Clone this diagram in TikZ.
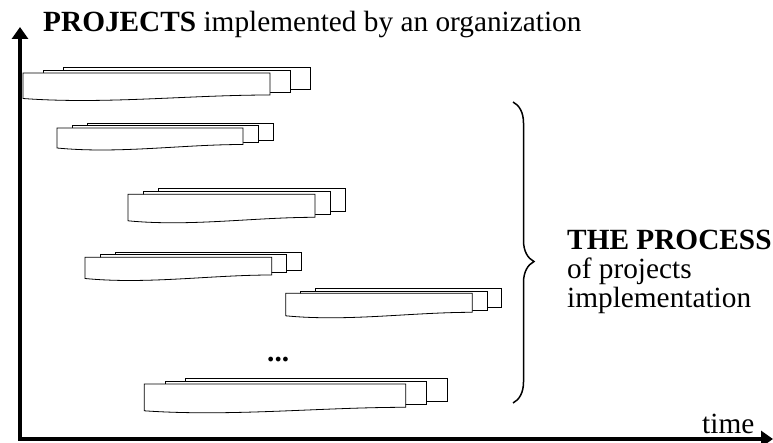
\documentclass[tikz,border=0pt]{standalone}
\usepackage{fontspec}
\setmainfont{Liberation Serif}
\usetikzlibrary{arrows.meta,decorations.pathreplacing}

\tikzset{
  axisline/.style={line width=3.2pt, line join=miter},
  sheet/.style={draw=black, line width=0.8pt, fill=white},
  txt/.style={anchor=base west, inner sep=0pt, font=\fontsize{29.3}{34}\selectfont},
}

\begin{document}
\begin{tikzpicture}[x=1pt,y=-1pt]
	% one stack of project sheets: name, left, top, width, height, shift x, shift y
	\newcommand{\projstack}[7]{
		\draw[sheet] (#2+2*#6, #3-2*#7) rectangle ++(#4,#5);
		\draw[sheet] (#2+#6, #3-#7) rectangle ++(#4,#5);
		\draw[sheet] (#2,#3) coordinate (#1) -- ++(#4,0) -- ++(0,#5)
			.. controls (#2+0.67*#4, #3+#5) and (#2+0.33*#4, #3+#5+9.5) .. (#2, #3+#5+3.5) -- cycle;
	}

	\useasboundingbox (0,0) rectangle (773,443);

	% axes
	\coordinate (origo) at (20,439);
	\coordinate (ytip) at (20,27);
	\coordinate (xtip) at (773,439);
	\draw[axisline, {Triangle[width=16pt,length=12pt]}-{Triangle[width=16pt,length=12pt]}] (ytip) -- (origo) -- (xtip);

	\node[txt] (projects) at (43,31.7) {\textbf{PROJECTS} implemented by an organization};
	\node[txt] (time) at (702,433) {time};

	% project stacks
	\projstack{stackA}{23}{73}{247}{22}{20}{3}
	\projstack{stackB}{57}{128}{186}{16.5}{15}{2.2}
	\projstack{stackC}{128}{194.3}{187}{23}{15.3}{3}
	\projstack{stackD}{85}{257.3}{186.7}{17.7}{15}{2.5}
	\projstack{stackE}{285.7}{293.3}{186.6}{19}{14.7}{2.2}
	\projstack{stackF}{144.3}{384}{261.4}{23.3}{20.7}{2.9}

	\node[txt] (dots) at (267,361) {\textbf{...}};

	% brace and process text
	\coordinate (braceTop) at (513,102);
	\coordinate (braceBot) at (513,403);
	\draw[line width=1.5pt, decorate, decoration={brace, amplitude=21pt, aspect=0.53}] (braceTop) -- (braceBot);

	\node[txt] (proctitle) at (567,250) {\textbf{THE PROCESS}};
	\node[txt] (procof) at (567,279) {of projects};
	\node[txt] (procimpl) at (567,308) {implementation};
\end{tikzpicture}
\end{document}
